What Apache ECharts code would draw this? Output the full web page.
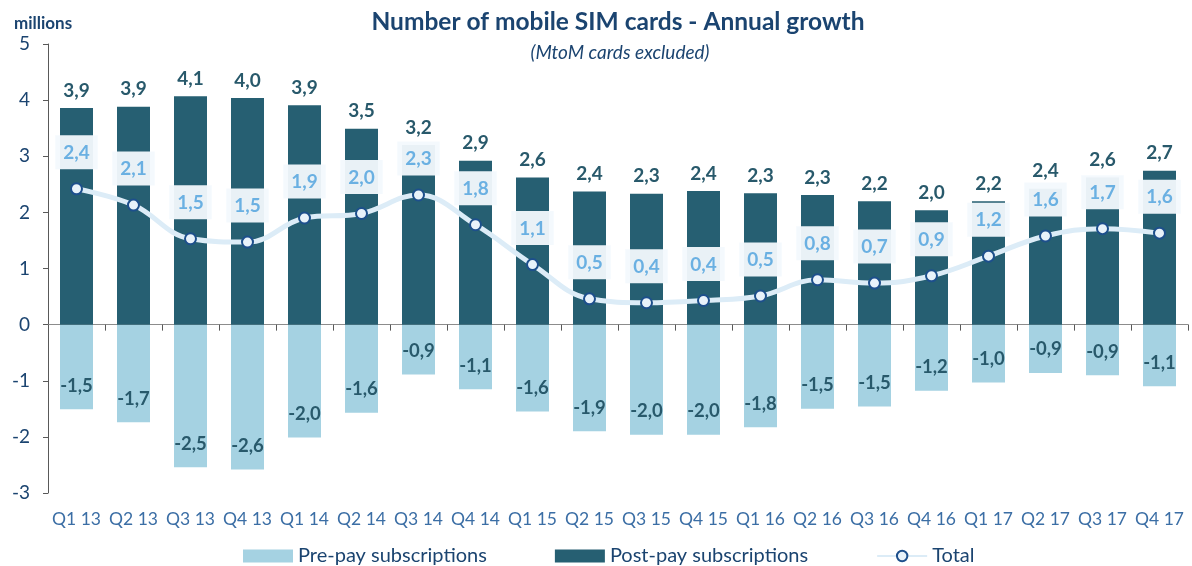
<!DOCTYPE html>
<html>
<head>
<meta charset="utf-8">
<script src="https://cdn.jsdelivr.net/npm/echarts@6/dist/echarts.min.js"></script>
<style>
  html, body { margin: 0; padding: 0; background: #fff; }
  #chart { width: 1192px; height: 566px; }
</style>
</head>
<body>
<div id="chart"></div>
<script>
// quarters
var quarters = ['Q1 13', 'Q2 13', 'Q3 13', 'Q4 13', 'Q1 14', 'Q2 14', 'Q3 14', 'Q4 14', 'Q1 15', 'Q2 15',
  'Q3 15', 'Q4 15', 'Q1 16', 'Q2 16', 'Q3 16', 'Q4 16', 'Q1 17', 'Q2 17', 'Q3 17', 'Q4 17'];
// millions, annual growth
var postPay = [3.86, 3.88, 4.07, 4.04, 3.91, 3.49, 3.2, 2.92, 2.62, 2.37,
  2.33, 2.38, 2.34, 2.31, 2.2, 2.04, 2.2, 2.42, 2.62, 2.74];
var prePay = [-1.51, -1.74, -2.54, -2.58, -2.01, -1.57, -0.89, -1.15, -1.55, -1.9,
  -1.96, -1.96, -1.83, -1.5, -1.46, -1.18, -1.03, -0.86, -0.9, -1.1];
var total = [2.42, 2.13, 1.53, 1.47, 1.9, 1.98, 2.31, 1.78, 1.07, 0.46,
  0.39, 0.43, 0.51, 0.8, 0.74, 0.87, 1.22, 1.58, 1.71, 1.63];
var yTicks = [-3, 5, 1]; // min, max, step

function fmt(v) { return v.toFixed(1).replace('.', ','); }

var chart = echarts.init(document.getElementById('chart'));
chart.setOption({
  textStyle: { fontFamily: 'Lato' },
  title: [
    { text: 'Number of mobile SIM cards - Annual growth', left: 613, top: 5, textAlign: 'center',
      textStyle: { fontSize: 24.5, fontWeight: 'bold', color: '#1b4470', fontFamily: 'Lato' } },
    { text: '(MtoM cards excluded)', left: 615, top: 38, textAlign: 'center',
      textStyle: { fontSize: 19, fontStyle: 'italic', fontWeight: 'normal', color: '#1b4470', fontFamily: 'Lato' } },
    { text: 'millions', left: 9, top: 10,
      textStyle: { fontSize: 17, fontWeight: 'bold', color: '#1b4470', fontFamily: 'Lato' } }
  ],
  grid: { left: 48, right: 4, top: 44, bottom: 73, outerBoundsMode: 'none', containLabel: false },
  legend: {
    top: 541, left: 238, itemWidth: 50, itemHeight: 13, itemGap: 68,
    textStyle: { fontSize: 20, color: '#1b4470' },
    data: [
      { name: 'Pre-pay subscriptions', icon: 'rect' },
      { name: 'Post-pay subscriptions', icon: 'rect' },
      { name: 'Total' }
    ]
  },
  xAxis: {
    type: 'category',
    data: quarters,
    axisLine: { onZero: true, lineStyle: { color: '#8c8c8c', width: 1 } },
    axisTick: { show: true, length: 6, lineStyle: { color: '#595959' } },
    axisLabel: { interval: 0, margin: 17, fontSize: 17.5, color: '#3b6ea5' }
  },
  yAxis: {
    type: 'value',
    min: yTicks[0], max: yTicks[1], interval: yTicks[2],
    splitLine: { show: false },
    axisLine: { show: true, lineStyle: { color: '#595959' } },
    axisTick: { show: true, length: 5, lineStyle: { color: '#595959' } },
    axisLabel: { fontSize: 19, color: '#1b4470', margin: 18 }
  },
  series: [
    {
      name: 'Pre-pay subscriptions', type: 'bar', stack: 'a', barWidth: 33,
      data: prePay,
      itemStyle: { color: '#a5d2e2' },
      label: { show: true, position: 'insideBottom', distance: 14, fontSize: 18.5, fontWeight: 'bold',
        color: '#28596b', formatter: function (p) { return fmt(p.value); } },
      z: 2
    },
    {
      name: 'Post-pay subscriptions', type: 'bar', stack: 'a', barWidth: 33,
      data: postPay,
      itemStyle: { color: '#265f72' },
      label: { show: true, position: 'top', distance: 8, fontSize: 19, fontWeight: 'bold',
        color: '#28596b', formatter: function (p) { return fmt(p.value); } },
      z: 2
    },
    {
      name: 'Total', type: 'line', smooth: 0.4,
      data: total,
      symbol: 'circle', symbolSize: 11,
      lineStyle: { color: '#dcecf7', width: 5 },
      itemStyle: { color: '#e8f2fa', borderColor: '#1d4f8c', borderWidth: 2 },
      label: { show: true, position: 'top', distance: 13, fontSize: 19, fontWeight: 'bold',
        color: '#6ab0e2', backgroundColor: 'rgba(243,249,253,0.95)', padding: [8, 8, 7, 8],
        formatter: function (p) { return fmt(p.value); } },
      z: 5
    }
  ]
});
</script>
</body>
</html>
